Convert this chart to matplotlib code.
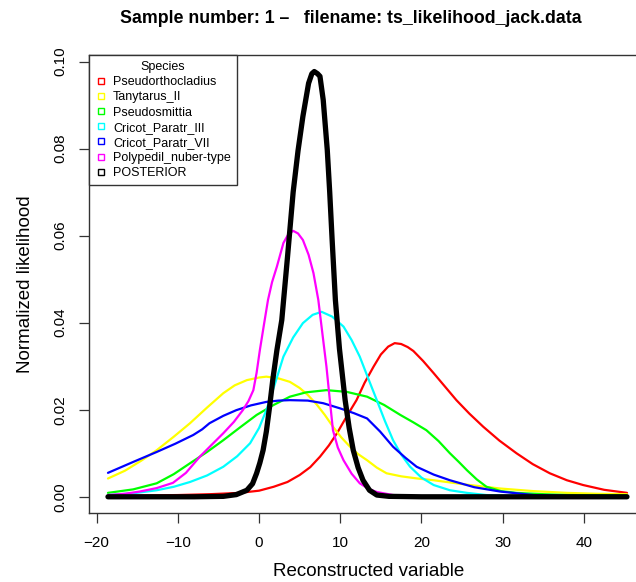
import matplotlib
matplotlib.use("Agg")
import matplotlib.pyplot as plt
from matplotlib.lines import Line2D

plt.rcParams['font.family'] = ['Liberation Sans', 'DejaVu Sans']

# values
species = ['Pseudorthocladius', 'Tanytarus_II', 'Pseudosmittia', 'Cricot_Paratr_III',
           'Cricot_Paratr_VII', 'Polypedil_nuber-type', 'POSTERIOR']
colours = ['#ff0000', '#ffff00', '#00ff00', '#00ffff', '#0000ff', '#ff00ff', '#000000']

red_x = [-18.6, -14, -10, -6, -2.4, 0, 1.8, 3.5, 5.0, 6.3, 7.5, 8.6, 9.6, 10.8, 12.0, 13.0, 14.1, 15.0,
         15.9, 16.7, 17.5, 18.3, 19.0, 20.2, 21.5, 22.9, 24.3, 25.9, 27.6, 29.6, 31.7, 33.7, 35.8, 37.9,
         39.9, 42.5, 45.3]
red_y = [0.0002, 0.0003, 0.0004, 0.0006, 0.0009, 0.0014, 0.0023, 0.0034, 0.0050, 0.0068, 0.0092, 0.0118,
         0.0146, 0.0185, 0.0222, 0.0262, 0.0299, 0.0327, 0.0345, 0.0353, 0.0351, 0.0344, 0.0335, 0.0312,
         0.0284, 0.0253, 0.0222, 0.0191, 0.0161, 0.0129, 0.0100, 0.0075, 0.0054, 0.0038, 0.0027, 0.0016,
         0.0009]

yellow_x = [-18.6, -16.5, -14.5, -12.6, -10.5, -8.5, -6.4, -4.4, -3.0, -1.5, 0.0, 0.9, 2.4, 3.8, 5.0, 6.0,
            7.1, 8.1, 9.1, 10.1, 11.2, 12.2, 13.3, 14.5, 15.7, 17.5, 19.5, 21.5, 25.5, 29.7, 33.8, 37.9,
            41.5, 45.3]
yellow_y = [0.0042, 0.0060, 0.0083, 0.0107, 0.0138, 0.0169, 0.0205, 0.0238, 0.0256, 0.0268, 0.0274, 0.0276,
            0.0272, 0.0264, 0.0250, 0.0234, 0.0212, 0.0188, 0.0161, 0.0137, 0.0115, 0.0098, 0.0084, 0.0067,
            0.0054, 0.0047, 0.0042, 0.0038, 0.0028, 0.0019, 0.0013, 0.0009, 0.0007, 0.0006]

green_x = [-18.6, -15.5, -12.6, -10.5, -8.5, -6.4, -4.4, -2.3, -0.3, 1.8, 3.8, 5.8, 8.3, 10.8, 13.3, 15.4,
           17.4, 19.0, 20.6, 22.1, 23.5, 24.6, 25.6, 26.8, 28.0, 29.8, 31.7, 35.0, 38.0, 45.3]
green_y = [0.0009, 0.0017, 0.0031, 0.0052, 0.0077, 0.0103, 0.0130, 0.0160, 0.0188, 0.0211, 0.0230, 0.0240,
           0.0245, 0.0241, 0.0230, 0.0211, 0.0188, 0.0171, 0.0153, 0.0128, 0.0100, 0.0080, 0.0061, 0.0040,
           0.0023, 0.0013, 0.0009, 0.0006, 0.0004, 0.0003]

cyan_x = [-18.6, -15.5, -12.6, -10.5, -8.5, -6.4, -4.4, -2.7, -1.1, 0.0, 0.9, 2.0, 3.0, 4.2, 5.4, 6.6, 7.7,
          9.0, 10.4, 11.4, 12.4, 13.4, 14.5, 15.5, 16.5, 17.5, 18.6, 20.0, 21.5, 23.5, 25.6, 28.0, 31.0, 45.3]
cyan_y = [0.0004, 0.0008, 0.0015, 0.0023, 0.0034, 0.0049, 0.0069, 0.0093, 0.0123, 0.0158, 0.0199, 0.0262,
          0.0322, 0.0366, 0.0399, 0.0418, 0.0425, 0.0414, 0.0391, 0.0360, 0.0322, 0.0274, 0.0222, 0.0174,
          0.0130, 0.0097, 0.0069, 0.0044, 0.0027, 0.0015, 0.0009, 0.0004, 0.0002, 0.0001]

blue_x = [-18.6, -15.5, -12.6, -10.3, -8.1, -7.0, -6.1, -4.4, -2.8, -1.0, 0.9, 2.4, 3.8, 6.0, 7.9, 10.0,
          11.7, 13.3, 14.9, 16.5, 18.0, 19.4, 21.5, 23.5, 26.5, 29.7, 33.8, 38.0, 45.3]
blue_y = [0.0055, 0.0080, 0.0103, 0.0122, 0.0142, 0.0155, 0.0169, 0.0186, 0.0199, 0.0210, 0.0218, 0.0221,
          0.0222, 0.0221, 0.0215, 0.0203, 0.0192, 0.0180, 0.0150, 0.0115, 0.0090, 0.0069, 0.0051, 0.0038,
          0.0022, 0.0012, 0.0004, 0.0002, 0.0001]

magenta_x = [-18.6, -16.5, -14.7, -12.6, -10.6, -9.0, -7.3, -5.8, -4.4, -3.1, -2.0, -1.3, -0.7, -0.3, 0.1,
             0.6, 1.1, 1.6, 2.2, 3.0, 3.6, 4.2, 4.8, 5.4, 6.1, 6.7, 7.3, 7.8, 8.3, 8.7, 9.1, 9.7, 10.4, 11.4,
             12.4, 13.5, 14.5, 16.5, 20.0, 45.3]
magenta_y = [0.0004, 0.0007, 0.0012, 0.0020, 0.0032, 0.0055, 0.0092, 0.0120, 0.0146, 0.0172, 0.0199,
             0.0220, 0.0245, 0.0285, 0.0337, 0.0395, 0.0452, 0.0493, 0.0529, 0.0583, 0.0603, 0.0611, 0.0605,
             0.0590, 0.0556, 0.0514, 0.0452, 0.0375, 0.0299, 0.0225, 0.0153, 0.0113, 0.0084, 0.0053, 0.0031,
             0.0018, 0.0011, 0.0004, 0.0001, 0.0]

black_x = [-18.6, -8.0, -4.4, -2.8, -1.5, -0.8, -0.3, 0.1, 0.5, 0.9, 1.3, 1.7, 2.2, 2.8, 3.5, 4.2, 4.8, 5.4,
           6.1, 6.5, 6.8, 7.2, 7.5, 7.9, 8.4, 8.7, 9.0, 9.4, 9.9, 10.6, 11.1, 11.6, 12.2, 12.8, 13.6, 14.5,
           16.0, 20.0, 45.3]
black_y = [0.0, 0.0, 0.0001, 0.0005, 0.0015, 0.0030, 0.0054, 0.0078, 0.0107, 0.0150, 0.0207, 0.0270, 0.0337,
           0.0406, 0.0550, 0.0700, 0.0795, 0.0874, 0.0950, 0.0972, 0.0977, 0.0972, 0.0966, 0.0912, 0.0797,
           0.0700, 0.0590, 0.0452, 0.0340, 0.0222, 0.0158, 0.0107, 0.0067, 0.0038, 0.0015, 0.0004, 0.0001,
           0.0, 0.0]

series_x = [red_x, yellow_x, green_x, cyan_x, blue_x, magenta_x, black_x]
series_y = [red_y, yellow_y, green_y, cyan_y, blue_y, magenta_y, black_y]
widths = [1.6, 1.6, 1.6, 1.6, 1.6, 1.6, 3.8]

fig = plt.figure(figsize=(6.36, 5.82), dpi=100)
ax = fig.add_axes([0.1404, 0.118, 0.8786, 0.7875])

for xs, ys, col, lw in zip(series_x, series_y, colours, widths):
    ax.plot(xs, ys, color=col, lw=lw, solid_joinstyle='round', solid_capstyle='round')

ax.set_xlim(-20.9, 47.9)
ax.set_ylim(-0.0038, 0.1015)
ax.set_xticks([-20, -10, 0, 10, 20, 30, 40])
ax.set_yticks([0.0, 0.02, 0.04, 0.06, 0.08, 0.10])
ax.set_yticklabels(['0.00', '0.02', '0.04', '0.06', '0.08', '0.10'], rotation=90, va='center')
ax.tick_params(direction='out', length=7, width=0.9, labelsize=11, pad=9, color='#333333')
for sp in ax.spines.values():
    sp.set_color('#333333')
    sp.set_linewidth(1.0)

ax.set_xlabel('Reconstructed variable', fontsize=13.5, labelpad=10)
ax.set_ylabel('Normalized likelihood', fontsize=13.5, labelpad=14)

fig.text(0.552, 0.968, 'Sample number: 1 \u2013   filename: ts_likelihood_jack.data',
         ha='center', va='center', fontsize=12.8, fontweight='bold')

handles = [Line2D([], [], ls='none', marker='s', markersize=5, markerfacecolor='none',
                  markeredgecolor=c, markeredgewidth=1) for c in colours]
leg = ax.legend(handles, species, title='Species', loc='upper left', bbox_to_anchor=(0, 1),
                borderaxespad=0, fontsize=9, title_fontsize=9, frameon=True, fancybox=False,
                edgecolor='#333333', framealpha=1, handlelength=0.8, handletextpad=0.6,
                labelspacing=0.25, borderpad=0.5)
leg.get_frame().set_linewidth(1.0)

fig.savefig('out.png', dpi=100)
